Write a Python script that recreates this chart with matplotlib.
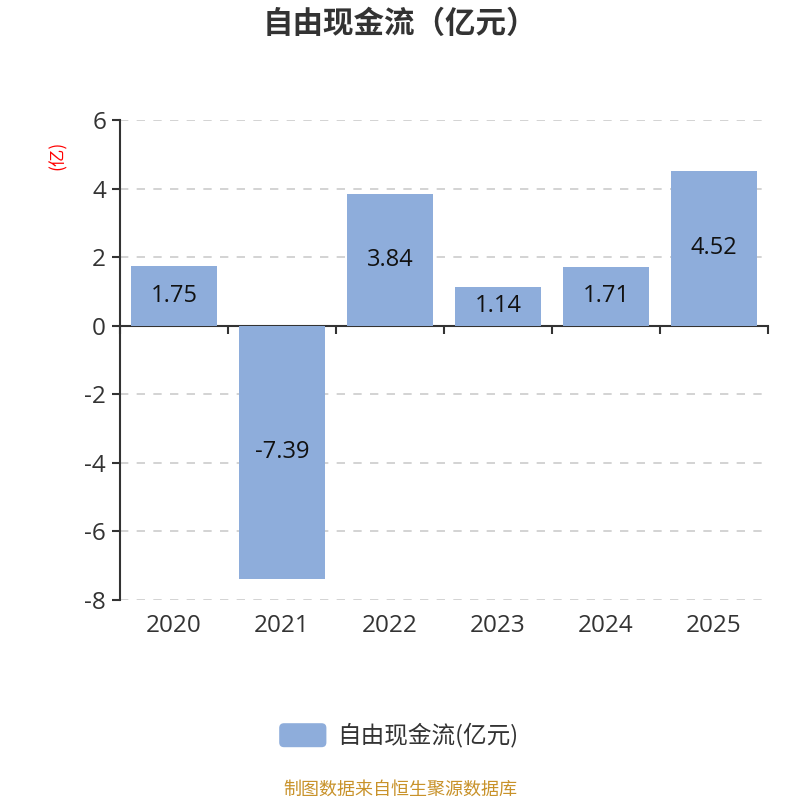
import numpy as np
import matplotlib.pyplot as plt
import matplotlib.transforms as mtransforms
from matplotlib.patches import FancyBboxPatch

plt.rcParams['font.family'] = ['Open Sans', 'Noto Sans CJK SC', 'DejaVu Sans']
cjk = ['Noto Sans CJK SC', 'DejaVu Sans']

years = ['2020', '2021', '2022', '2023', '2024', '2025']
values = [1.75, -7.39, 3.84, 1.14, 1.71, 4.52]
yticks = [-8, -6, -4, -2, 0, 2, 4, 6]
bar_color = '#8EADDB'

fig = plt.figure(figsize=(8, 8), dpi=100)
ax = fig.add_axes([0.15, 0.25, 0.81, 0.60])

x = np.arange(len(years))
ax.bar(x, values, width=0.8, color=bar_color, zorder=3)

# value labels in the middle of each bar
for xi, v in zip(x, values):
    ax.text(xi, v / 2, f'{v:.2f}', ha='center', va='center',
            fontsize=17, color='#111111', zorder=4)

ax.set_xlim(-0.5, len(years) - 0.5)
ax.set_ylim(-8, 6)
ax.set_yticks(yticks)
ax.set_yticklabels([str(t) for t in yticks], fontsize=17.5, color='#333333')
ax.yaxis.grid(True, linestyle=(0, (5, 5)), color='#cccccc', linewidth=1.2, zorder=0)
ax.tick_params(axis='y', length=6, width=1.5, color='#333333', pad=4)

# x axis line at zero, ticks at category boundaries
ax.spines['bottom'].set_position(('data', 0))
ax.spines['bottom'].set_color('#333333')
ax.spines['bottom'].set_linewidth(1.5)
ax.spines['left'].set_color('#333333')
ax.spines['left'].set_linewidth(1.5)
ax.spines['top'].set_visible(False)
ax.spines['right'].set_visible(False)
ax.set_xticks(np.arange(-0.5, len(years), 1.0))
ax.set_xticklabels([])
ax.tick_params(axis='x', length=6, width=1.5, color='#333333', direction='out')

trans = mtransforms.blended_transform_factory(ax.transData, ax.transAxes)
for xi, yr in zip(x, years):
    ax.text(xi, -0.055, yr, transform=trans, ha='center', va='center',
            fontsize=17.5, color='#333333')

# unit label
fig.text(0.072, 0.806, '(亿)', rotation=90, ha='center', va='center',
         fontsize=12.5, color='red', family=cjk)

# title
fig.text(0.5, 0.97, '自由现金流（亿元）', ha='center', va='center',
         fontsize=22, fontweight='bold', color='#333333', family=cjk)

# legend
patch = FancyBboxPatch((0.349, 0.066), 0.059, 0.03,
                       boxstyle='round,pad=0,rounding_size=0.006',
                       transform=fig.transFigure, facecolor=bar_color,
                       edgecolor='none')
fig.patches.append(patch)
fig.text(0.422, 0.081, '自由现金流(亿元)', ha='left', va='center',
         fontsize=17, color='#333333', family=cjk)

# source note
fig.text(0.5, 0.013, '制图数据来自恒生聚源数据库', ha='center', va='center',
         fontsize=13, color='#C8922A', family=cjk)

fig.savefig('out.png', dpi=100)
